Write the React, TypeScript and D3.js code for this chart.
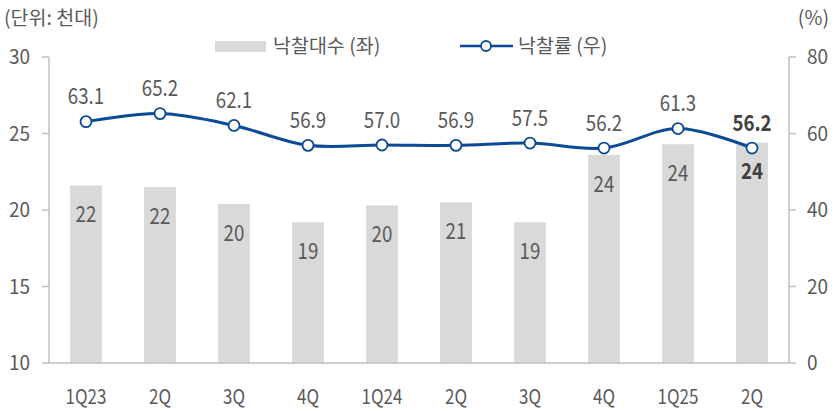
import React from "react";
import * as d3 from "d3";

const categories = ["1Q23", "2Q", "3Q", "4Q", "1Q24", "2Q", "3Q", "4Q", "1Q25", "2Q"];
const units = [21.6, 21.5, 20.4, 19.2, 20.3, 20.5, 19.2, 23.6, 24.3, 24.4];
const unitLabels = ["22", "22", "20", "19", "20", "21", "19", "24", "24", "24"];
const rates = [63.1, 65.2, 62.1, 56.9, 57.0, 56.9, 57.5, 56.2, 61.3, 56.2];
const leftTicks = [10, 15, 20, 25, 30];
const rightTicks = [0, 20, 40, 60, 80];

const W = 837;
const H = 411;
const margin = { top: 57, right: 48, bottom: 48, left: 49 };
const FONT = "'Noto Sans CJK KR', 'Noto Sans', sans-serif";
const TEXT = "#595959";
const BLUE = "#0c4a97";

// narrow text: the original font is taller and thinner than Noto Sans
const Narrow = ({ x, y, size, sx = 0.85, anchor = "middle", fill = TEXT, weight = 400, children }: any) => (
  <text
    transform={`translate(${x},${y}) scale(${sx},1)`}
    dy="0.35em"
    fontSize={size}
    textAnchor={anchor}
    fill={fill}
    fontWeight={weight}
  >
    {children}
  </text>
);

export default function App() {
  const x = d3
    .scaleBand<number>()
    .domain(categories.map((_, i) => i))
    .range([margin.left, W - margin.right])
    .paddingInner(0.57)
    .paddingOuter(0.285);
  const yL = d3.scaleLinear().domain([10, 30]).range([H - margin.bottom, margin.top]);
  const yR = d3.scaleLinear().domain([0, 80]).range([H - margin.bottom, margin.top]);
  const cx = (i: number) => (x(i) as number) + x.bandwidth() / 2;

  const line = d3
    .line<number>()
    .x((_, i) => cx(i))
    .y((d) => yR(d))
    .curve(d3.curveCatmullRom.alpha(0.5));

  const last = categories.length - 1;

  return (
    <svg width={W} height={H} style={{ position: "absolute", left: 0, top: 0 }} fontFamily={FONT}>
      <text x={4} y={25} fontSize={19.5} fill={TEXT}>(단위: 천대)</text>
      <text x={829} y={25} fontSize={19.5} fill={TEXT} textAnchor="end">(%)</text>

      {/* legend */}
      <rect x={215} y={41} width={51} height={11} fill="#d9d9d9" />
      <text x={273} y={53} fontSize={19.5} fill={TEXT}>낙찰대수 (좌)</text>
      <line x1={460} x2={513} y1={46} y2={46} stroke={BLUE} strokeWidth={2.5} />
      <circle cx={486} cy={46} r={5} fill="#fff" stroke={BLUE} strokeWidth={1.8} />
      <text x={518} y={53} fontSize={19.5} fill={TEXT}>낙찰률 (우)</text>

      {/* axes */}
      <line x1={margin.left} x2={margin.left} y1={margin.top} y2={H - margin.bottom} stroke="#bfbfbf" strokeWidth={1.5} />
      <line x1={W - margin.right} x2={W - margin.right} y1={margin.top} y2={H - margin.bottom} stroke="#bfbfbf" strokeWidth={1.5} />
      {leftTicks.map((t) => (
        <g key={"l" + t}>
          <line x1={margin.left - 7} x2={margin.left} y1={yL(t)} y2={yL(t)} stroke="#bfbfbf" strokeWidth={1.5} />
          <Narrow x={30} y={yL(t)} size={20} sx={0.95} anchor="end">{t}</Narrow>
        </g>
      ))}
      {rightTicks.map((t) => (
        <g key={"r" + t}>
          <line x1={W - margin.right} x2={W - margin.right + 7} y1={yR(t)} y2={yR(t)} stroke="#bfbfbf" strokeWidth={1.5} />
          <Narrow x={807} y={yR(t)} size={20} sx={0.95} anchor="start">{t}</Narrow>
        </g>
      ))}

      {/* bars */}
      {units.map((v, i) => (
        <g key={"b" + i}>
          <rect x={x(i)} y={yL(v)} width={x.bandwidth()} height={yL(10) - yL(v)} fill="#d9d9d9" />
          <Narrow
            x={cx(i)}
            y={yL(v) + 29}
            size={22}
            fill={i === last ? "#404040" : TEXT}
            weight={i === last ? 700 : 400}
          >
            {unitLabels[i]}
          </Narrow>
        </g>
      ))}
      <line x1={margin.left} x2={W - margin.right} y1={yL(10)} y2={yL(10)} stroke="#bfbfbf" strokeWidth={1.5} />

      {/* line */}
      <path d={line(rates) ?? ""} fill="none" stroke={BLUE} strokeWidth={3} />
      {rates.map((v, i) => (
        <g key={"p" + i}>
          <circle cx={cx(i)} cy={yR(v)} r={5.5} fill="#fff" stroke={BLUE} strokeWidth={1.8} />
          <Narrow
            x={cx(i)}
            y={yR(v) - 25}
            size={22}
            fill={i === last ? "#404040" : TEXT}
            weight={i === last ? 700 : 400}
          >
            {v.toFixed(1)}
          </Narrow>
        </g>
      ))}

      {/* x labels */}
      {categories.map((c, i) => (
        <Narrow key={"x" + i} x={cx(i)} y={397} size={20} sx={0.85}>
          {c}
        </Narrow>
      ))}
    </svg>
  );
}
